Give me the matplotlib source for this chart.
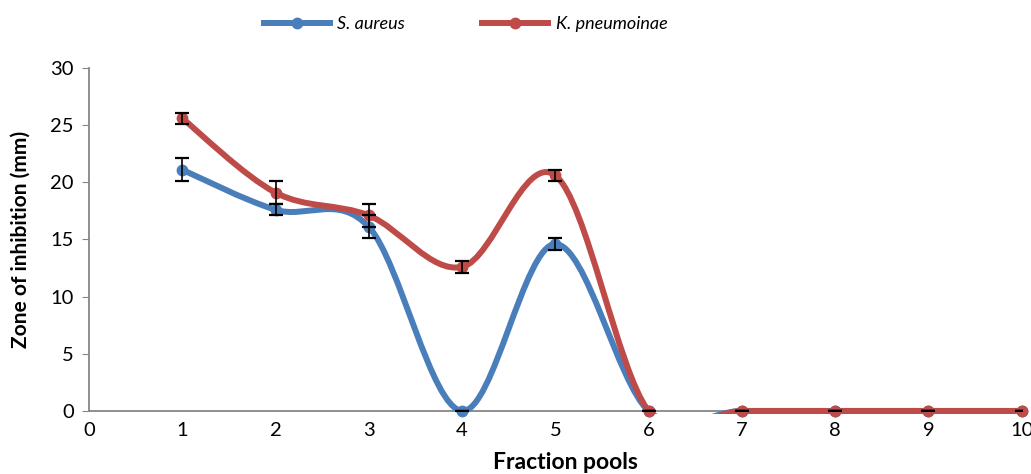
import numpy as np
import matplotlib.pyplot as plt
from matplotlib.path import Path
from matplotlib.patches import PathPatch, Rectangle
from matplotlib.lines import Line2D

# données
fractions = [1, 2, 3, 4, 5, 6, 7, 8, 9, 10]
s_aureus = [21.1, 17.6, 16.1, 0.0, 14.6, 0.0, 0.0, 0.0, 0.0, 0.0]
s_aureus_err = [1.0, 0.5, 1.0, 0.0, 0.5, 0.0, 0.0, 0.0, 0.0, 0.0]
k_pneumo = [25.6, 19.1, 17.1, 12.6, 20.6, 0.0, 0.0, 0.0, 0.0, 0.0]
k_pneumo_err = [0.5, 1.0, 1.0, 0.5, 0.5, 0.0, 0.0, 0.0, 0.0, 0.0]

BLUE = "#4a7ebb"
RED = "#be4b48"

plt.rcParams["font.family"] = ["Lato", "DejaVu Sans"]


def smooth_path(x, y):
    # courbe lissée façon Excel (Bézier cubique, tension 1/6)
    pts = list(zip(x, y))
    verts = [pts[0]]
    codes = [Path.MOVETO]
    n = len(pts)
    for i in range(n - 1):
        p0 = pts[i - 1] if i > 0 else pts[i]
        p1 = pts[i]
        p2 = pts[i + 1]
        p3 = pts[i + 2] if i + 2 < n else pts[i + 1]
        c1 = (p1[0] + (p2[0] - p0[0]) / 6, p1[1] + (p2[1] - p0[1]) / 6)
        c2 = (p2[0] - (p3[0] - p1[0]) / 6, p2[1] - (p3[1] - p1[1]) / 6)
        verts += [c1, c2, p2]
        codes += [Path.CURVE4] * 3
    return Path(verts, codes)


fig = plt.figure(figsize=(10.31, 4.74), dpi=100)
ax = fig.add_axes([0.0863, 0.133, 0.9047, 0.7235])

# zone de découpe un peu plus basse que l'axe (comme Excel)
clip = Rectangle((-0.01, -0.01), 1.03, 1.1, transform=ax.transAxes,
                 facecolor="none", edgecolor="none")
ax.add_patch(clip)

for y, err, col in [(s_aureus, s_aureus_err, BLUE), (k_pneumo, k_pneumo_err, RED)]:
    line = PathPatch(smooth_path(fractions, y), facecolor="none",
                     edgecolor=col, lw=4.3, capstyle="round", zorder=3)
    ax.add_patch(line)
    line.set_clip_path(clip)
    ax.plot(fractions, y, "o", color=col, ms=7.5, zorder=3.5, clip_on=False)
    ax.errorbar(fractions, y, yerr=err, fmt="none", ecolor="black",
                elinewidth=1.2, capsize=5, capthick=1.6, zorder=4)

ax.set_xlim(0, 10)
ax.set_ylim(0, 30)
ax.set_xticks(range(0, 11))
ax.set_yticks(range(0, 31, 5))
ax.tick_params(axis="both", labelsize=14.5, colors="black")
ax.tick_params(axis="y", length=5, color="#868686", pad=6)
ax.tick_params(axis="x", length=0, pad=8)
for s in ["top", "right"]:
    ax.spines[s].set_visible(False)
for s in ["left", "bottom"]:
    ax.spines[s].set_color("#868686")
    ax.spines[s].set_linewidth(1.3)
    ax.spines[s].set_zorder(2.5)

ax.set_ylabel("Zone of inhibition (mm)", fontsize=15, fontweight="bold")
ax.yaxis.set_label_coords(-0.062, 0.5)
ax.set_xlabel("Fraction pools", fontsize=16.5, fontweight="bold")
ax.xaxis.set_label_coords(0.511, -0.12)

handles = [Line2D([], [], color=BLUE, lw=4.3, marker="o", ms=7.5),
           Line2D([], [], color=RED, lw=4.3, marker="o", ms=7.5)]
fig.legend(handles, ["S. aureus", "K. pneumoinae"], loc="center",
           bbox_to_anchor=(0.4515, 0.949), ncol=2, frameon=False,
           prop={"style": "italic", "size": 13}, handlelength=3.65,
           columnspacing=4.3, handletextpad=0.4)

fig.savefig("out.png", dpi=100)
